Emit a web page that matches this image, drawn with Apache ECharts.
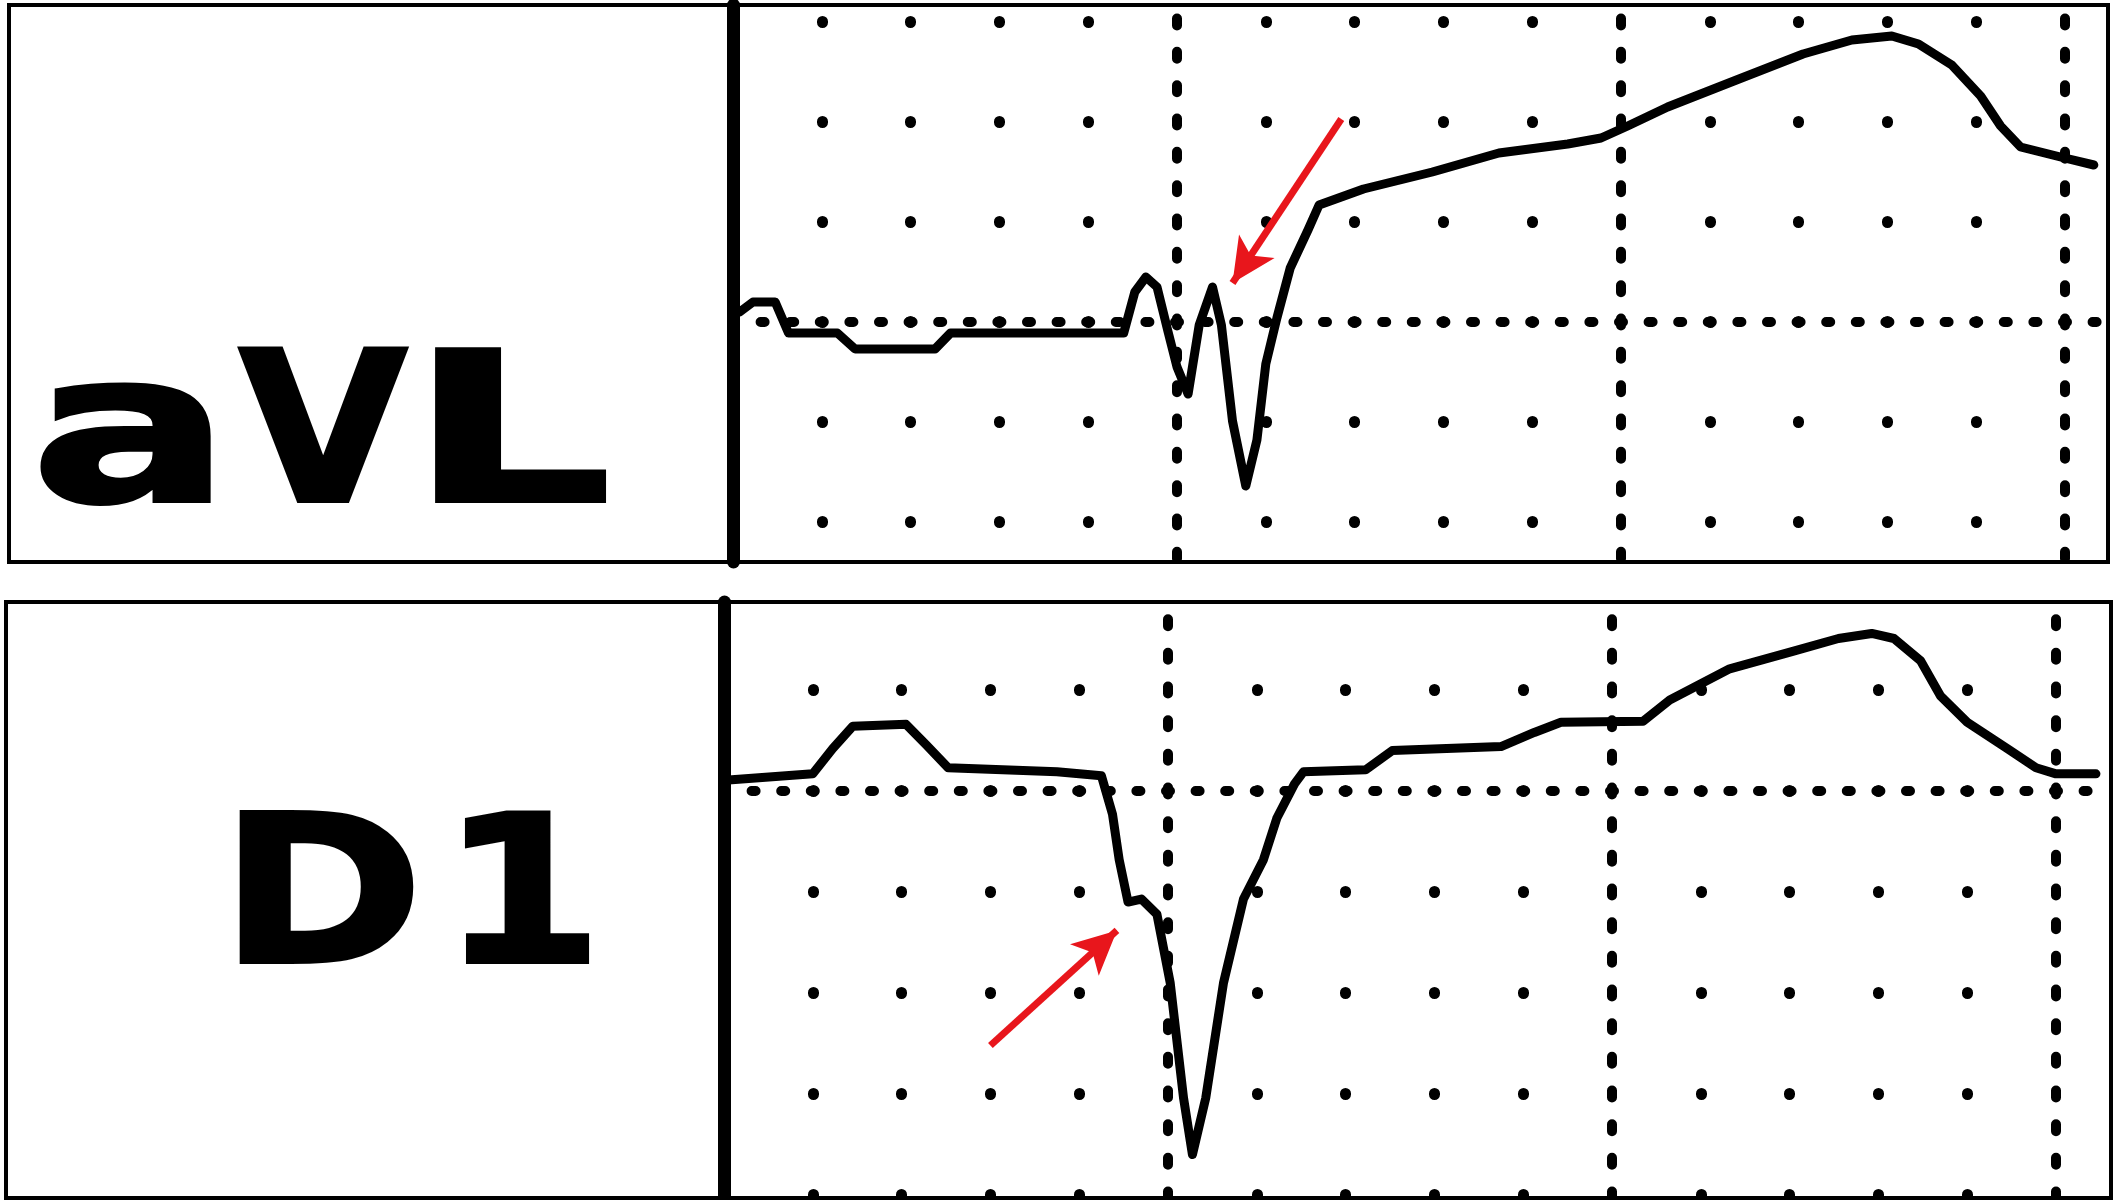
<!DOCTYPE html>
<html>
<head>
<meta charset="utf-8">
<script src="https://cdn.jsdelivr.net/npm/echarts@6/dist/echarts.min.js"></script>
<style>
html,body{margin:0;padding:0;background:#fff;}
#chart{width:2120px;height:1200px;}
</style>
</head>
<body>
<div id="chart"></div>
<script>
// ---- Data (time in ms, amplitude in mV; 1 small box = 40 ms / 0.1 mV) ----
const leadNames = ['aVL', 'D1'];

const aVL_t  = [3, 9, 19, 25, 47, 55, 91, 98, 165, 176, 181, 186, 191, 196, 200, 205, 210, 216, 220, 225, 231, 236, 240, 245, 251, 259, 264, 284, 315, 345, 376, 391, 403, 421, 452, 482, 504, 522, 534, 549, 562, 571, 580, 598, 613];
const aVL_mV = [0.010, 0.020, 0.020, -0.011, -0.011, -0.027, -0.027, -0.011, -0.011, -0.011, 0.030, 0.045, 0.035, -0.010, -0.045, -0.072, -0.003, 0.035, -0.003, -0.099, -0.164, -0.118, -0.042, 0.004, 0.054, 0.092, 0.117, 0.133, 0.150, 0.169, 0.178, 0.184, 0.196, 0.215, 0.242, 0.268, 0.282, 0.286, 0.278, 0.257, 0.226, 0.196, 0.175, 0.165, 0.157];

const D1_t  = [2, 40, 49, 58, 82, 91, 101, 150, 170, 175, 178, 182, 188, 195, 201, 207, 211, 217, 225, 234, 243, 249, 257, 261, 289, 301, 350, 365, 377, 414, 426, 453, 481, 502, 517, 527, 539, 548, 560, 578, 591, 600, 618];
const D1_mV = [0.011, 0.017, 0.042, 0.064, 0.066, 0.046, 0.023, 0.019, 0.015, -0.023, -0.068, -0.110, -0.107, -0.122, -0.190, -0.304, -0.360, -0.304, -0.190, -0.107, -0.068, -0.027, 0.007, 0.019, 0.021, 0.040, 0.044, 0.058, 0.068, 0.069, 0.090, 0.121, 0.138, 0.151, 0.156, 0.151, 0.129, 0.094, 0.068, 0.042, 0.023, 0.017, 0.017];

// arrows: [tail time, tail mV, tip time, tip mV]
const aVL_arrow = [274, 0.203, 225, 0.039];
const D1_arrow  = [120, -0.252, 177, -0.138];

// ---- Layout ----
const panels = [
  {x: 9, y: 5, w: 2099, h: 557, axisX: 733, baseY: 322, pxPerBox: 100, label: ['a','V','L'],
   boxes: [[42,209],[240,407],[438,603]], baseline: 501, cap: 152},
  {x: 6, y: 602, w: 2105, h: 596, axisX: 724, baseY: 791, pxPerBox: 101, label: ['D','1'],
   boxes: [[241,411],[467,587]], baseline: 962, cap: 150}
];
const pxPerMs = 2.22;

function zip(a, b) { return a.map((v, i) => [v, b[i]]); }
function mod(a, n) { return ((a % n) + n) % n; }

const chart = echarts.init(document.getElementById('chart'), null, {renderer: 'canvas'});

const grids = [], xAxes = [], yAxes = [], series = [], graphics = [];

function labelElements(p) {
  const c = document.createElement('canvas').getContext('2d');
  const fam = '"DejaVu Sans", sans-serif';
  c.font = 'bold 100px ' + fam;
  c.textBaseline = 'alphabetic';
  const capH = c.measureText('H').actualBoundingBoxAscent;
  const F = 100 * p.cap / capH;
  const font = 'bold ' + F.toFixed(2) + 'px ' + fam;
  c.font = font;
  const els = [];
  p.label.forEach((ch, i) => {
    c.textBaseline = 'alphabetic';
    const m = c.measureText(ch);
    c.textBaseline = 'middle';
    const mm = c.measureText(ch);
    const off = mm.actualBoundingBoxDescent - m.actualBoundingBoxDescent;
    const inkW = m.actualBoundingBoxLeft + m.actualBoundingBoxRight;
    const b = p.boxes[i];
    const sx = (b[1] - b[0]) / inkW;
    els.push({
      type: 'text', x: b[0] + m.actualBoundingBoxLeft * sx, y: p.baseline - off,
      scaleX: sx, z: 50, silent: true,
      style: {text: ch, font: font, fill: '#000', stroke: '#000', lineWidth: 4, lineJoin: 'round',
              align: 'left', verticalAlign: 'middle'}
    });
  });
  return els;
}

const traces = [zip(aVL_t, aVL_mV), zip(D1_t, D1_mV)];
const arrows = [aVL_arrow, D1_arrow];

panels.forEach((p, i) => {
  const gTop = p.y, gH = p.h, gLeft = p.axisX, gW = p.x + p.w - p.axisX;
  grids.push({left: gLeft, top: gTop, width: gW, height: gH, show: false, containLabel: false});
  const xMax = gW / pxPerMs;
  const yMax = (p.baseY - gTop) / (p.pxPerBox * 10);
  const yMin = -(gTop + gH - p.baseY) / (p.pxPerBox * 10);
  const rowD = mod(p.baseY - gTop, p.pxPerBox);           // first dot row below grid top
  const colPx = 40 * pxPerMs;                              // one small box horizontally
  // minor dot columns
  const dotLen = 1;
  const dotOffset = mod(-(rowD - dotLen / 2), p.pxPerBox);
  // major vertical dashes: period = box/3, aligned to rows
  const mPer = p.pxPerBox / 3, mLen = 7;
  const mOffset = mod(-(mod(rowD, mPer) - mLen / 2), mPer);
  // baseline dashes: period = column/3, aligned to columns
  const bPer = colPx / 3, bLen = 4;
  xAxes.push({
    gridIndex: i, type: 'value', min: 0, max: xMax, interval: 200,
    axisLine: {show: true, onZero: true, lineStyle: {color: '#000', width: 10, type: [bLen, bPer - bLen], dashOffset: bLen / 2, cap: 'round'}},
    axisTick: {show: false}, axisLabel: {show: false},
    splitLine: {show: true, showMaxLine: false, lineStyle: {color: '#000', width: 10, type: [mLen, mPer - mLen], dashOffset: mOffset, cap: 'round'}},
    minorTick: {show: false, splitNumber: 5},
    minorSplitLine: {show: true, lineStyle: {color: '#000', width: 11, type: [dotLen, p.pxPerBox - dotLen], dashOffset: dotOffset, cap: 'round'}}
  });
  yAxes.push({
    gridIndex: i, type: 'value', min: yMin, max: yMax,
    axisLine: {show: true, onZero: false, lineStyle: {color: '#000', width: 13}},
    axisTick: {show: false}, axisLabel: {show: false}, splitLine: {show: false}
  });
  const a = arrows[i];
  series.push({
    name: leadNames[i], type: 'line', xAxisIndex: i, yAxisIndex: i,
    data: traces[i], showSymbol: false, symbol: 'none', z: 5,
    lineStyle: {color: '#000', width: 9, join: 'round', cap: 'round'},
    silent: true,
    markLine: {
      silent: true, animation: false,
      symbol: ['none', 'arrow'], symbolSize: [32, 44],
      label: {show: false},
      lineStyle: {color: '#e8161c', width: 7, type: 'solid'},
      emphasis: {disabled: true},
      data: [[{coord: [a[0], a[1]]}, {coord: [a[2], a[3]]}]]
    }
  });
  graphics.push({
    type: 'rect', z: 100, silent: true,
    shape: {x: p.x, y: p.y, width: p.w, height: p.h},
    style: {fill: 'none', stroke: '#000', lineWidth: 4}
  });
  labelElements(p).forEach(e => graphics.push(e));
});

chart.setOption({
  animation: false,
  backgroundColor: '#fff',
  grid: grids, xAxis: xAxes, yAxis: yAxes, series: series,
  graphic: graphics
});
</script>
</body>
</html>
